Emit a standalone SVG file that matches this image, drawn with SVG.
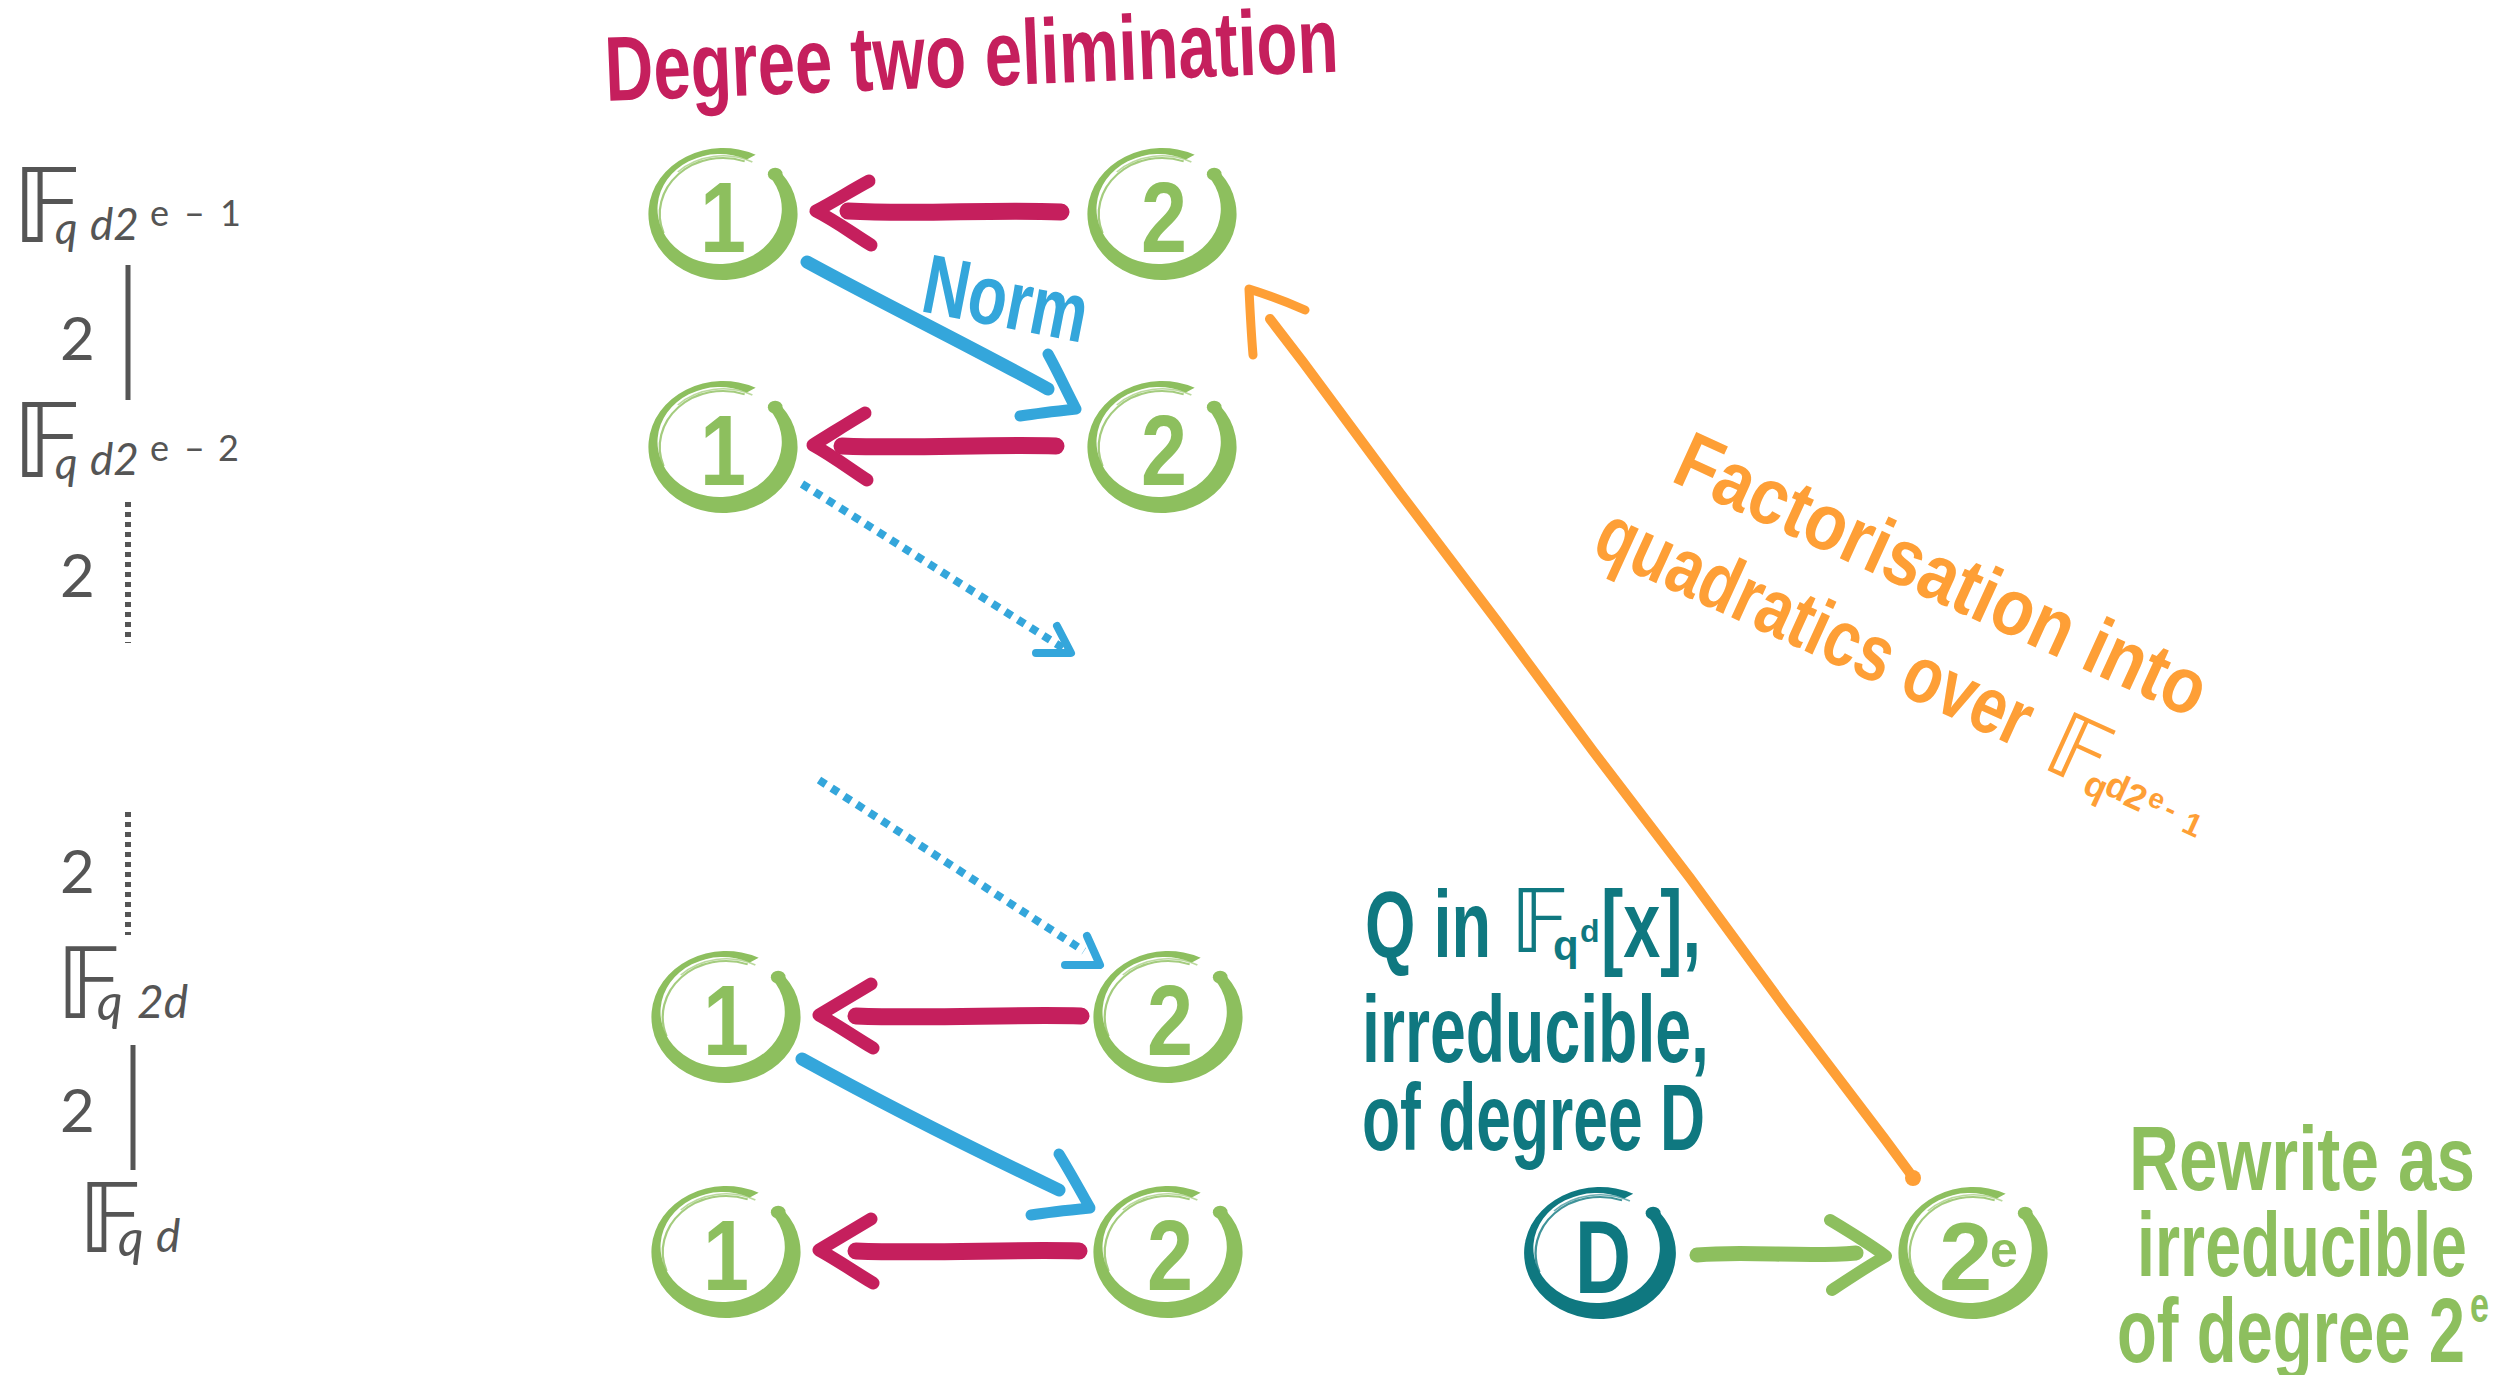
<svg xmlns="http://www.w3.org/2000/svg" xmlns:xlink="http://www.w3.org/1999/xlink" width="2520" height="1375" viewBox="0 0 2520 1375">
<style>
  .hand{font-family:"Liberation Sans",Arial,sans-serif;font-weight:700;stroke-linejoin:round}
  .lab{font-family:Lato,"Open Sans","Noto Sans",sans-serif;fill:#555555}
  .bb{font-family:"DejaVu Sans",sans-serif;font-weight:400;font-style:normal}
  .green{color:#8DBF5E;fill:#8DBF5E}
  .teal{color:#0F7880;fill:#0F7880}
  .crimson{fill:#C51F5D}
  .blue{fill:#34A6DB}
  .orange{fill:#FE9F36}
  .digit{font-size:100px;text-anchor:middle}
  .c-crim{stroke:#C51F5D;fill:none;stroke-linecap:round;stroke-linejoin:round}
  .c-blue{stroke:#34A6DB;fill:none;stroke-linecap:round;stroke-linejoin:round}
  .c-dot{stroke:#34A6DB;fill:none;stroke-width:8;stroke-dasharray:8 7}
  .c-orange{stroke:#FE9F36;fill:none;stroke-linecap:round;stroke-linejoin:round}
  .c-green{stroke:#8DBF5E;fill:none;stroke-linecap:round;stroke-linejoin:round}
  .c-gray{stroke:#555555;fill:none;stroke-width:5}
  .c-grayd{stroke:#555555;fill:none;stroke-width:6;stroke-dasharray:5 5}
</style>
<defs>
  <g id="ring">
    <path fill="currentColor" d="M52,-40.6 A66,66 0 1 1 28.9,-59.3 L21.1,-54.4 A55,55 0 1 0 40.3,-38.9 Z"/>
    <circle fill="currentColor" cx="46.2" cy="-39.8" r="6.5"/>
    <path fill="none" stroke="currentColor" stroke-width="2" opacity="0.8" d="M-52.6,19.2 A56,56 0 0 1 19.2,-52.6"/>
    <path fill="none" stroke="currentColor" stroke-width="1.5" opacity="0.6" d="M-40,-42 A58,58 0 0 1 26,-52"/>
  </g>
</defs>

<rect width="2520" height="1375" fill="#ffffff"/>

<!-- left tower of fields -->
<g id="field-labels">
  <text id="label-qd2e-1" class="lab" y="242"><tspan class="bb" x="12" font-size="104">𝔽</tspan><tspan x="55" y="244" font-size="44" font-style="italic">q</tspan><tspan x="90" y="240" font-size="44" font-style="italic">d2</tspan><tspan x="150" y="226" font-size="36">e</tspan><tspan x="184" font-size="36">–</tspan><tspan x="220" font-size="36">1</tspan></text>
  <text class="lab" x="60" y="360" font-size="60">2</text>
  <text id="label-qd2e-2" class="lab" y="477"><tspan class="bb" x="12" font-size="104">𝔽</tspan><tspan x="55" y="479" font-size="44" font-style="italic">q</tspan><tspan x="90" y="475" font-size="44" font-style="italic">d2</tspan><tspan x="150" y="461" font-size="36">e</tspan><tspan x="184" font-size="36">–</tspan><tspan x="218" font-size="36">2</tspan></text>
  <text class="lab" x="60" y="597" font-size="60">2</text>
  <text class="lab" x="60" y="893" font-size="60">2</text>
  <text id="label-q2d" class="lab" y="1018"><tspan class="bb" x="56" font-size="98">𝔽</tspan><tspan x="97" y="1020" font-size="50" font-style="italic">q</tspan><tspan x="137" y="1018" font-size="46" font-style="italic">2d</tspan></text>
  <text class="lab" x="60" y="1132" font-size="60">2</text>
  <text id="label-qd" class="lab" y="1252"><tspan class="bb" x="78" font-size="96">𝔽</tspan><tspan x="118" y="1256" font-size="50" font-style="italic">q</tspan><tspan x="156" y="1252" font-size="46" font-style="italic">d</tspan></text>
  <line class="c-gray" x1="128" y1="265" x2="128" y2="400"/>
  <line class="c-grayd" x1="128" y1="502" x2="128" y2="643"/>
  <line class="c-grayd" x1="128" y1="812" x2="128" y2="935"/>
  <line class="c-gray" x1="133" y1="1045" x2="133" y2="1170"/>
</g>

<!-- nodes -->
<g id="node-1a"><use xlink:href="#ring" class="green" transform="translate(723,214) scale(1.13,1)"/><text class="hand green digit" x="723" y="252" textLength="46" lengthAdjust="spacingAndGlyphs">1</text></g>
<g id="node-2a"><use xlink:href="#ring" class="green" transform="translate(1162,214) scale(1.13,1)"/><text class="hand green digit" x="1164" y="252" textLength="46" lengthAdjust="spacingAndGlyphs">2</text></g>
<g id="node-1b"><use xlink:href="#ring" class="green" transform="translate(723,447) scale(1.13,1)"/><text class="hand green digit" x="723" y="485" textLength="46" lengthAdjust="spacingAndGlyphs">1</text></g>
<g id="node-2b"><use xlink:href="#ring" class="green" transform="translate(1162,447) scale(1.13,1)"/><text class="hand green digit" x="1164" y="485" textLength="46" lengthAdjust="spacingAndGlyphs">2</text></g>
<g id="node-1c"><use xlink:href="#ring" class="green" transform="translate(726,1017) scale(1.13,1)"/><text class="hand green digit" x="726" y="1055" textLength="46" lengthAdjust="spacingAndGlyphs">1</text></g>
<g id="node-2c"><use xlink:href="#ring" class="green" transform="translate(1168,1017) scale(1.13,1)"/><text class="hand green digit" x="1170" y="1055" textLength="46" lengthAdjust="spacingAndGlyphs">2</text></g>
<g id="node-1d"><use xlink:href="#ring" class="green" transform="translate(726,1252) scale(1.13,1)"/><text class="hand green digit" x="726" y="1290" textLength="46" lengthAdjust="spacingAndGlyphs">1</text></g>
<g id="node-2d"><use xlink:href="#ring" class="green" transform="translate(1168,1252) scale(1.13,1)"/><text class="hand green digit" x="1170" y="1290" textLength="46" lengthAdjust="spacingAndGlyphs">2</text></g>
<g id="node-D"><use xlink:href="#ring" class="teal" transform="translate(1600,1253) scale(1.15,1)"/><text class="hand teal" x="1603" y="1293" font-size="104" text-anchor="middle" textLength="56" lengthAdjust="spacingAndGlyphs">D</text></g>
<g id="node-2e"><use xlink:href="#ring" class="green" transform="translate(1973,1253) scale(1.13,1)"/><text class="hand green" font-size="96"><tspan x="1939" y="1290">2</tspan><tspan x="1990" y="1267" font-size="50">e</tspan></text></g>

<!-- connectors -->
<g id="connectors">
  <g id="crimson-arrows">
    <path class="c-crim" stroke-width="17" d="M1061,212 C990,209 920,215 848,211"/>
    <path class="c-crim" stroke-width="13" d="M869,181 C852,190 835,201 816,211 C836,221 853,234 871,245"/>
    <path class="c-crim" stroke-width="17" d="M1056,446 C985,444 915,449 842,446"/>
    <path class="c-crim" stroke-width="13" d="M865,413 C848,423 831,434 813,445 C833,456 850,469 867,480"/>
    <path class="c-crim" stroke-width="17" d="M1081,1016 C1010,1014 935,1019 856,1016"/>
    <path class="c-crim" stroke-width="13" d="M871,984 C854,994 836,1005 819,1015 C839,1026 856,1038 873,1048"/>
    <path class="c-crim" stroke-width="17" d="M1079,1251 C1010,1249 935,1254 856,1251"/>
    <path class="c-crim" stroke-width="13" d="M871,1219 C854,1229 836,1240 819,1250 C839,1261 856,1273 873,1283"/>
  </g>
  <g id="norm-arrows">
    <path class="c-blue" stroke-width="13" d="M807,262 C880,302 972,347 1048,389"/>
    <path class="c-blue" stroke-width="11" d="M1048,354 C1058,372 1066,390 1076,409 C1058,411 1040,413 1020,416"/>
    <path class="c-blue" stroke-width="13" d="M802,1059 C880,1102 975,1150 1059,1190"/>
    <path class="c-blue" stroke-width="11" d="M1059,1154 C1070,1172 1080,1190 1090,1208 C1070,1210 1050,1212 1031,1215"/>
  </g>
  <g id="dotted-arrows">
    <path class="c-dot" d="M802,484 L1063,648"/>
    <path class="c-blue" stroke-width="8" stroke-linecap="butt" d="M1057,626 L1071,653 L1036,653"/>
    <path class="c-dot" d="M819,780 L1084,951"/>
    <path class="c-blue" stroke-width="8" stroke-linecap="butt" d="M1087,936 L1100,965 L1065,965"/>
  </g>
  <g id="factorisation-arrow">
    <polyline class="c-orange" stroke-width="10" points="1915,1180 1884,1138 1786,1009 1690,878 1593,751 1497,621 1400,493 1303,362 1270,319"/>
    <circle class="orange" cx="1913" cy="1178" r="8"/>
    <path class="c-orange" stroke-width="9" d="M1305,310 C1285,301 1265,294 1249,289 C1250,310 1251,331 1253,355"/>
  </g>
  <g id="rewrite-arrow">
    <path class="c-green" stroke-width="15" d="M1697,1255 C1750,1250 1800,1258 1856,1253"/>
    <path class="c-green" stroke-width="12" d="M1830,1220 C1850,1232 1868,1243 1886,1256 C1866,1267 1849,1279 1832,1290"/>
  </g>
</g>

<!-- labels -->
<g id="title">
  <text class="hand crimson" x="606" y="101" font-size="92" textLength="734" lengthAdjust="spacingAndGlyphs" transform="rotate(-2.3 606 101)">Degree two elimination</text>
</g>
<g id="norm-label">
  <text class="hand blue" x="919" y="311" font-size="84" textLength="166" lengthAdjust="spacingAndGlyphs" transform="rotate(11 919 311)">Norm</text>
</g>
<g id="factorisation-label" transform="translate(1590,553) rotate(24.5)">
  <text class="hand orange" x="42" y="-99" font-size="80" textLength="575" lengthAdjust="spacingAndGlyphs">Factorisation into</text>
  <text class="hand orange" x="0" y="0" font-size="80" textLength="470" lengthAdjust="spacingAndGlyphs">quadratics over</text>
  <text class="hand orange" font-size="36"><tspan class="bb" x="498" y="8" font-size="88">𝔽</tspan><tspan x="546" y="14">q</tspan><tspan x="566" y="6">d</tspan><tspan x="588" y="8">2</tspan><tspan x="610" y="-2" font-size="28">e</tspan><tspan x="630" y="2" font-size="30">-</tspan><tspan x="652" y="8" font-size="32">1</tspan></text>
</g>
<g id="q-label">
  <text class="hand teal" x="1365" y="957" font-size="94" textLength="126" lengthAdjust="spacingAndGlyphs">Q in</text>
  <text class="hand teal" font-size="42"><tspan class="bb" x="1510" y="952" font-size="88">𝔽</tspan><tspan x="1553" y="960">q</tspan><tspan x="1580" y="942" font-size="32">d</tspan></text>
  <text class="hand teal" x="1601" y="957" font-size="94" textLength="100" lengthAdjust="spacingAndGlyphs">[x],</text>
  <text class="hand teal" x="1362" y="1062" font-size="94" textLength="347" lengthAdjust="spacingAndGlyphs">irreducible,</text>
  <text class="hand teal" x="1362" y="1150" font-size="94" textLength="343" lengthAdjust="spacingAndGlyphs">of degree D</text>
</g>
<g id="rewrite-label">
  <text class="hand green" x="2129" y="1190" font-size="90" textLength="346" lengthAdjust="spacingAndGlyphs">Rewrite as</text>
  <text class="hand green" x="2137" y="1276" font-size="90" textLength="330" lengthAdjust="spacingAndGlyphs">irreducible</text>
  <text class="hand green" x="2117" y="1362" font-size="90" textLength="348" lengthAdjust="spacingAndGlyphs">of degree 2</text>
  <text class="hand green" x="2470" y="1322" font-size="50" textLength="19" lengthAdjust="spacingAndGlyphs">e</text>
</g>
</svg>
